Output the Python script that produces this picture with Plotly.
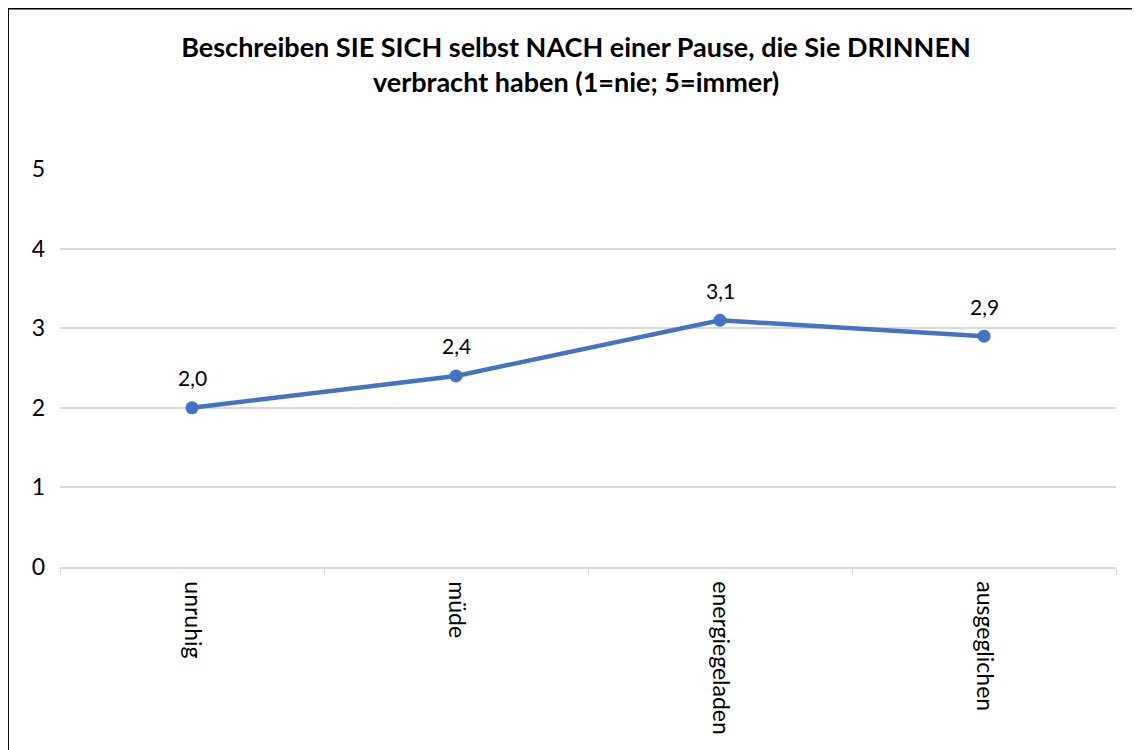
import plotly.graph_objects as go

categories = ["unruhig", "müde", "energiegeladen", "ausgeglichen"]
values = [2.0, 2.4, 3.1, 2.9]
value_labels = ["2,0", "2,4", "3,1", "2,9"]
title_text = "<b>Beschreiben SIE SICH selbst NACH einer Pause, die Sie DRINNEN<br>verbracht haben (1=nie; 5=immer)</b>"

FONT = "Lato, Open Sans, sans-serif"
OFF = 8  # page body margin
W, H = 1140 - OFF, 750 - OFF
L, R, T, B = 60 - OFF, 24, 169 - OFF, 183
pw, ph = W - L - R, H - T - B

fig = go.Figure()
fig.add_trace(go.Scatter(
    x=categories, y=values, mode="lines+markers",
    line=dict(color="#4472C4", width=4.5),
    marker=dict(color="#4472C4", size=13),
    cliponaxis=False, showlegend=False, hoverinfo="x+y",
))

for c, v, t in zip(categories, values, value_labels):
    fig.add_annotation(x=c, y=v, text=t, showarrow=False, yshift=30,
                       font=dict(family=FONT, size=21, color="#000000"))

def px_x(p):
    return (p - OFF - L) / pw

def px_y(p):
    return (H - B - (p - OFF)) / ph

fig.add_shape(type="rect", xref="paper", yref="paper",
              x0=px_x(8.2), x1=px_x(1133), y0=px_y(8.7), y1=px_y(760),
              line=dict(color="#000000", width=1.5), fillcolor="rgba(0,0,0,0)")

fig.update_layout(
    width=W, height=H,
    margin=dict(l=L, r=R, t=T, b=B, autoexpand=False),
    paper_bgcolor="white", plot_bgcolor="white",
    font=dict(family=FONT, color="#000000"),
    title=dict(text=title_text, x=(576 - OFF) / W, xanchor="center", xref="container",
               y=1 - 49 / H, yanchor="top", yref="container",
               font=dict(size=27, family=FONT, color="#000000")),
)
fig.update_xaxes(
    type="category", range=[-0.5, 3.5], tickson="boundaries", ticks="outside", ticklen=6,
    tickcolor="#d9d9d9", showline=True, linecolor="#d9d9d9", linewidth=1.5,
    showgrid=False, tickangle=90, automargin=False,
    tickfont=dict(size=23, family=FONT, color="#000000"),
    ticklabelstandoff=8,
)
fig.update_yaxes(
    range=[0, 5], dtick=1, showgrid=True, gridcolor="#d9d9d9", gridwidth=1.5,
    zeroline=False, showline=False, ticks="", automargin=False,
    tickfont=dict(size=23, family=FONT, color="#000000"),
    ticklabelstandoff=14,
)

fig.write_html("out.html")
